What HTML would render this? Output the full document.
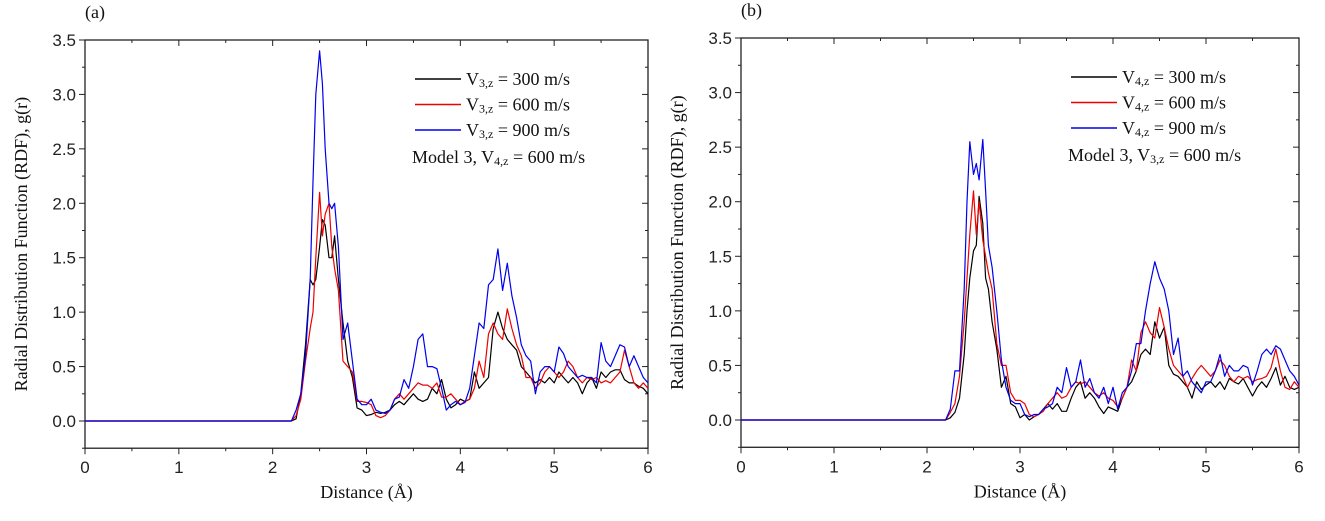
<!DOCTYPE html>
<html><head><meta charset="utf-8"><style>
body{margin:0;background:#fff;}
svg{display:block;}
.tk{font-family:"Liberation Sans",Arial,sans-serif;font-size:17px;fill:#222;}
.tt{font-family:"Liberation Serif","Times New Roman",serif;font-size:18px;fill:#111;}
</style></head><body>
<svg id="c" width="1325" height="521" viewBox="0 0 1325 521" xmlns="http://www.w3.org/2000/svg"></svg>
<script>
const xGrid=[0,2.2,2.25,2.3,2.35,2.4,2.43,2.46,2.5,2.53,2.56,2.6,2.63,2.66,2.7,2.75,2.8,2.85,2.9,2.95,3.0,3.05,3.1,3.15,3.2,3.25,3.3,3.35,3.4,3.45,3.5,3.55,3.6,3.65,3.7,3.75,3.8,3.85,3.9,3.95,4.0,4.05,4.1,4.15,4.2,4.25,4.3,4.35,4.4,4.45,4.5,4.55,4.6,4.65,4.7,4.75,4.8,4.85,4.9,4.95,5.0,5.05,5.1,5.15,5.2,5.25,5.3,5.35,5.4,5.45,5.5,5.55,5.6,5.65,5.7,5.75,5.8,5.85,5.9,5.95,6.0];
const aBlack=[0,0,0.02,0.25,0.7,1.3,1.25,1.3,1.6,1.85,1.8,1.5,1.5,1.7,1.3,0.9,0.55,0.4,0.12,0.1,0.05,0.06,0.08,0.07,0.08,0.1,0.15,0.18,0.15,0.2,0.25,0.2,0.18,0.2,0.3,0.25,0.38,0.2,0.12,0.15,0.2,0.18,0.2,0.45,0.3,0.35,0.4,0.85,1.0,0.85,0.75,0.7,0.65,0.5,0.45,0.4,0.35,0.38,0.35,0.4,0.35,0.45,0.4,0.35,0.4,0.35,0.25,0.35,0.4,0.3,0.45,0.4,0.45,0.47,0.47,0.38,0.35,0.35,0.32,0.3,0.25];
const aRed=[0,0,0.05,0.2,0.55,0.85,1.0,1.5,2.1,1.7,1.9,2.0,1.6,1.4,1.2,0.55,0.5,0.45,0.18,0.18,0.17,0.15,0.05,0.03,0.05,0.1,0.2,0.25,0.2,0.25,0.3,0.35,0.33,0.33,0.3,0.35,0.22,0.22,0.25,0.2,0.15,0.18,0.2,0.3,0.55,0.4,0.8,0.9,0.8,0.75,1.03,0.85,0.7,0.6,0.4,0.4,0.3,0.35,0.45,0.5,0.45,0.4,0.45,0.55,0.5,0.4,0.35,0.4,0.38,0.4,0.35,0.37,0.35,0.4,0.45,0.65,0.5,0.35,0.3,0.35,0.3];
const aBlue=[0,0,0.1,0.25,0.6,1.3,2.2,3.0,3.4,3.1,2.5,2.0,1.95,2.0,1.6,0.75,0.9,0.55,0.2,0.15,0.15,0.2,0.1,0.08,0.07,0.1,0.2,0.22,0.38,0.3,0.5,0.75,0.8,0.5,0.5,0.48,0.3,0.1,0.15,0.18,0.15,0.17,0.3,0.6,0.9,0.85,1.25,1.3,1.58,1.2,1.45,1.15,0.95,0.7,0.6,0.55,0.25,0.45,0.5,0.5,0.45,0.68,0.62,0.5,0.45,0.4,0.42,0.4,0.4,0.35,0.72,0.55,0.5,0.6,0.7,0.68,0.5,0.6,0.5,0.4,0.35];
const bBlack=[0,0,0.02,0.07,0.2,0.6,1.0,1.3,1.55,1.6,2.05,1.8,1.3,1.2,0.9,0.65,0.3,0.4,0.15,0.12,0.02,0.05,0.0,0.03,0.05,0.1,0.15,0.1,0.15,0.08,0.08,0.2,0.3,0.35,0.2,0.25,0.2,0.12,0.06,0.12,0.1,0.08,0.2,0.3,0.35,0.45,0.6,0.65,0.6,0.9,0.75,0.85,0.5,0.42,0.4,0.35,0.3,0.2,0.35,0.28,0.32,0.35,0.3,0.35,0.28,0.38,0.35,0.33,0.38,0.3,0.22,0.3,0.35,0.3,0.38,0.48,0.32,0.4,0.3,0.28,0.3];
const bRed=[0,0,0.07,0.15,0.4,0.9,1.3,1.7,2.1,1.7,2.0,1.65,1.5,1.35,1.2,0.7,0.5,0.5,0.25,0.18,0.18,0.15,0.05,0.03,0.05,0.08,0.15,0.2,0.25,0.2,0.22,0.3,0.35,0.33,0.35,0.3,0.25,0.22,0.25,0.2,0.18,0.12,0.2,0.3,0.55,0.45,0.8,0.9,0.8,0.75,1.03,0.85,0.65,0.5,0.45,0.4,0.3,0.38,0.45,0.5,0.45,0.4,0.45,0.55,0.5,0.4,0.35,0.4,0.38,0.4,0.35,0.37,0.38,0.4,0.48,0.65,0.45,0.3,0.28,0.35,0.3];
const bBlue=[0,0,0.1,0.45,0.45,1.2,2.0,2.55,2.25,2.35,2.2,2.57,2.1,1.6,1.4,1.0,0.55,0.3,0.18,0.15,0.15,0.05,0.03,0.05,0.05,0.1,0.12,0.15,0.3,0.25,0.48,0.3,0.35,0.55,0.3,0.38,0.25,0.2,0.3,0.15,0.3,0.1,0.25,0.3,0.45,0.7,0.7,1.0,1.25,1.45,1.3,1.2,1.0,0.6,0.75,0.4,0.45,0.35,0.3,0.25,0.35,0.35,0.45,0.6,0.4,0.5,0.45,0.45,0.5,0.48,0.32,0.45,0.6,0.65,0.6,0.68,0.65,0.55,0.45,0.4,0.32];
const yTicks=[0,0.5,1.0,1.5,2.0,2.5,3.0,3.5];
const xTicks=[0,1,2,3,4,5,6];

const svg=document.getElementById('c');
const NS='http://www.w3.org/2000/svg';
function mk(tag,at,parent){const e=document.createElementNS(NS,tag);for(const k in at)e.setAttribute(k,at[k]);(parent||svg).appendChild(e);return e;}

function panel(id,L,R,yTop,yZero,series,legendSub,modelSub,label){
  const g=mk('g',{});
  
  
  const k=(yZero-yTop)/3.5;
  const X=v=>L+(R-L)*v/6;
  const Y=v=>yZero-v*k;
  const B=Y(-0.25);
  const frame=mk('rect',{x:L,y:yTop,width:R-L,height:B-yTop,fill:'none',stroke:'#222','stroke-width':1.3},g);
  
  
  for(let v=0;v<=6.001;v+=0.5){
    const maj=Math.abs(v-Math.round(v))<1e-6;const len=maj?6:3;
    mk('line',{x1:X(v),x2:X(v),y1:B,y2:B+len,stroke:'#222','stroke-width':1},g);
    mk('line',{x1:X(v),x2:X(v),y1:yTop,y2:yTop+len,stroke:'#222','stroke-width':1},g);
  }
  for(let v=-0.25;v<=3.501;v+=0.25){
    const maj=Math.abs(v*2-Math.round(v*2))<1e-6;const len=maj?6:3;
    mk('line',{x1:L-len,x2:L,y1:Y(v),y2:Y(v),stroke:'#222','stroke-width':1},g);
    mk('line',{x1:R-len,x2:R,y1:Y(v),y2:Y(v),stroke:'#222','stroke-width':1},g);
  }
  yTicks.forEach(v=>{const t=mk('text',{x:L-9,y:Y(v)+6,'text-anchor':'end',class:'tk'},g);t.textContent=v.toFixed(1);
    
    });
  xTicks.forEach(v=>{const t=mk('text',{x:X(v),y:B+25,'text-anchor':'middle',class:'tk'},g);t.textContent=v;
    
    });
  const cols=['#000','#e00','#00e'];
  series.forEach((s,i)=>{
    const d=s.map((v,j)=>(j?'L':'M')+X(xGrid[j]).toFixed(1)+','+Y(v).toFixed(1)).join('');
    const p=mk('path',{d:d,fill:'none',stroke:cols[i],'stroke-width':1.2,'stroke-linejoin':'round'},g);
    
    
  });
  const lx=L+330;
  ['300','600','900'].forEach((v,i)=>{
    const yy=yTop+39+i*25.5;
    const ln=mk('line',{x1:lx,x2:lx+46,y1:yy,y2:yy,stroke:cols[i],'stroke-width':1.4},g);
    
    
    const t=mk('text',{x:lx+51,y:yy+6,class:'tt'},g);
    
    
    t.innerHTML='V<tspan font-size="12" dy="2">'+legendSub+'</tspan><tspan dy="-2"> = '+v+' m/s</tspan>';
  });
  const m=mk('text',{x:lx-3,y:yTop+123,class:'tt'},g);
  
  
  m.innerHTML='Model 3, V<tspan font-size="12" dy="2">'+modelSub+'</tspan><tspan dy="-2"> = 600 m/s</tspan>';
  const yt=mk('text',{x:0,y:0,class:'tt','text-anchor':'middle',transform:'translate('+(L-58)+','+((yTop+B)/2)+') rotate(-90)'},g);
  
  
  yt.textContent='Radial Distribution Function (RDF), g(r)';
  const xt=mk('text',{x:(L+R)/2,y:B+50,class:'tt','text-anchor':'middle'},g);
  
  
  xt.textContent='Distance (Å)';
  const pl=mk('text',{x:L,y:yTop-22,class:'tt','font-size':'16'},g);
  
  
  pl.textContent=label;
}
panel('a',85,648,40,421,[aBlack,aRed,aBlue],'3,z','4,z','(a)');
panel('b',741,1299,38,420,[bBlack,bRed,bBlue],'4,z','3,z','(b)');
</script>
</body></html>
